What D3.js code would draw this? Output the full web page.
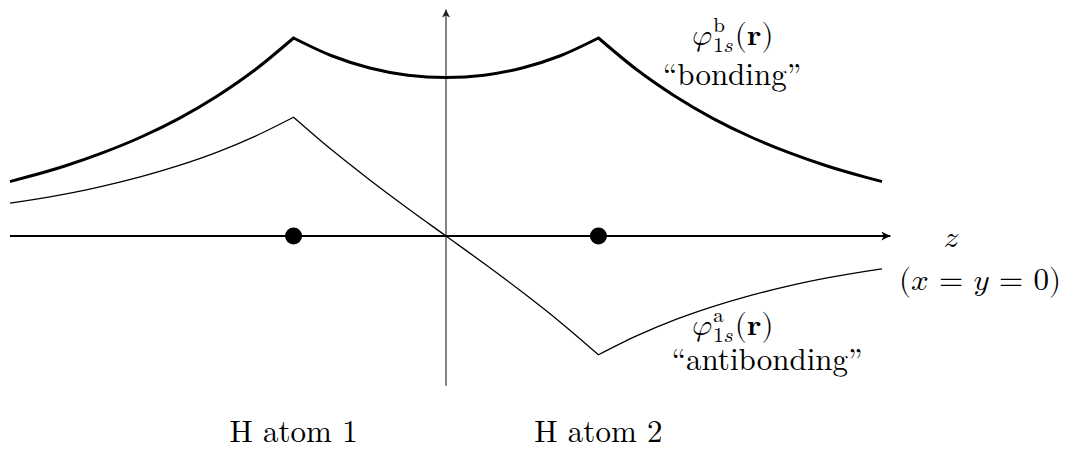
<!DOCTYPE html>
<html>
<head>
<meta charset="utf-8">
<script src="https://cdn.jsdelivr.net/npm/d3@7"></script>
<style>
  html, body { margin: 0; padding: 0; background: #fff; }
  svg { display: block; }
  text { font-family: "Latin Modern Roman", "Liberation Serif", serif; fill: #000; }
  .math { font-family: "Latin Modern Math", "Latin Modern Roman", serif; }
</style>
</head>
<body>
<svg id="chart" width="1066" height="451"></svg>
<script>
// Positions along the molecular axis z (in units of half the H–H separation)
const zSamples = [-2.86, -2.75, -2.5, -2.25, -2, -1.75, -1.5, -1.25, -1, -0.75, -0.5, -0.25, 0,
                  0.25, 0.5, 0.75, 1, 1.25, 1.5, 1.75, 2, 2.25, 2.5, 2.75, 2.86];
// Bonding combination of the two 1s orbitals
const bondingValues = [0.344, 0.372, 0.442, 0.526, 0.625, 0.743, 0.884, 1.051, 1.25, 1.138, 1.061, 1.015, 1.0,
                       1.015, 1.061, 1.138, 1.25, 1.051, 0.884, 0.743, 0.625, 0.526, 0.442, 0.372, 0.344];
// Antibonding combination of the two 1s orbitals
const antibondingValues = [0.207, 0.223, 0.265, 0.315, 0.375, 0.446, 0.530, 0.631, 0.75, 0.544, 0.354, 0.174, 0,
                           -0.174, -0.354, -0.544, -0.75, -0.631, -0.530, -0.446, -0.375, -0.315, -0.265, -0.223, -0.207];
// Nuclear positions (cusps of the orbitals)
const atomPositions = [-1, 1];
const atomLabels = ["H atom 1", "H atom 2"];
// Extent of the drawn axes
const zAxisExtent = [-2.86, 2.915];
const valueAxisExtent = [-0.945, 1.43];

const svg = d3.select("#chart");

const x = d3.scaleLinear().domain([-2.86, 2.86]).range([10, 882]);
const y = d3.scaleLinear().domain([0, 1.25]).range([236, 38]);

// Arrowhead markers
const defs = svg.append("defs");
defs.append("marker")
  .attr("id", "arrowH").attr("viewBox", "0 0 10 10").attr("refX", 10).attr("refY", 5)
  .attr("markerUnits", "userSpaceOnUse").attr("markerWidth", 14).attr("markerHeight", 9)
  .attr("orient", "auto")
  .append("path").attr("d", "M0,0 L10,5 L0,10 L2.5,5 Z").attr("fill", "#000");
defs.append("marker")
  .attr("id", "arrowV").attr("viewBox", "0 0 10 10").attr("refX", 10).attr("refY", 5)
  .attr("markerUnits", "userSpaceOnUse").attr("markerWidth", 13).attr("markerHeight", 8)
  .attr("orient", "auto")
  .append("path").attr("d", "M0,0 L10,5 L0,10 L2.5,5 Z").attr("fill", "#222");

// Vertical (value) axis through z = 0
svg.append("line")
  .attr("x1", x(0)).attr("x2", x(0))
  .attr("y1", y(valueAxisExtent[0])).attr("y2", y(valueAxisExtent[1]))
  .attr("stroke", "#333").attr("stroke-width", 1.2)
  .attr("marker-end", "url(#arrowV)");

// z axis
svg.append("line")
  .attr("x1", x(zAxisExtent[0])).attr("x2", x(zAxisExtent[1]))
  .attr("y1", y(0)).attr("y2", y(0))
  .attr("stroke", "#000").attr("stroke-width", 2.2)
  .attr("marker-end", "url(#arrowH)");

// Split a series into smooth pieces between the nuclear cusps
function pieces(values) {
  const pts = zSamples.map((z, i) => ({ z, v: values[i] }));
  const bounds = [zSamples[0], ...atomPositions, zSamples[zSamples.length - 1]];
  const out = [];
  for (let i = 0; i < bounds.length - 1; i++) {
    out.push(pts.filter(p => p.z >= bounds[i] && p.z <= bounds[i + 1]));
  }
  return out;
}

const line = d3.line().x(d => x(d.z)).y(d => y(d.v)).curve(d3.curveMonotoneX);

function drawSeries(values, width) {
  const segs = pieces(values);
  // consecutive pieces joined into one path so the cusps stay sharp
  const d = segs.map(s => line(s)).map((p, i) => i === 0 ? p : p.replace(/^M/, "L")).join("");
  svg.append("path")
    .attr("d", d)
    .attr("fill", "none").attr("stroke", "#000")
    .attr("stroke-width", width).attr("stroke-linejoin", "miter");
}

drawSeries(antibondingValues, 1.3);
drawSeries(bondingValues, 3);

// Nuclei
svg.selectAll("circle.atom").data(atomPositions).join("circle")
  .attr("class", "atom")
  .attr("cx", d => x(d)).attr("cy", y(0)).attr("r", 8.5).attr("fill", "#000");

// Atom labels
svg.selectAll("text.atomlabel").data(atomPositions).join("text")
  .attr("class", "atomlabel")
  .attr("x", d => x(d)).attr("y", 442)
  .attr("text-anchor", "middle")
  .attr("font-size", 31)
  .text((d, i) => atomLabels[i]);

// Orbital label: φ with superscript, subscript 1s and (r)
function orbitalLabel(x0, base, sup, supWidth) {
  const t = svg.append("text").attr("class", "math").attr("x", x0).attr("y", base).attr("font-size", 31);
  t.append("tspan").text("\u{1D711}");
  t.append("tspan").attr("font-size", 21).attr("dx", 1).attr("dy", -13).text(sup);
  t.append("tspan").attr("font-size", 21).attr("dx", -supWidth).attr("dy", 20).text("1");
  t.append("tspan").attr("font-size", 21).text("\u{1D460}");
  t.append("tspan").attr("dx", 1).attr("dy", -7).text("(");
  t.append("tspan").text("\u{1D42B}");
  t.append("tspan").text(")");
}

orbitalLabel(692, 45, "b", 11.7);
svg.append("text").attr("x", 732).attr("y", 85).attr("text-anchor", "middle")
  .attr("font-size", 31).text("\u201Cbonding\u201D");

orbitalLabel(692, 335, "a", 10.5);
svg.append("text").attr("x", 767).attr("y", 370).attr("text-anchor", "middle")
  .attr("font-size", 31).text("\u201Cantibonding\u201D");

// Axis label
svg.append("text").attr("class", "math").attr("x", 951).attr("y", 247).attr("text-anchor", "middle")
  .attr("font-size", 31).text("\u{1D467}");
svg.append("text").attr("class", "math").attr("x", 980).attr("y", 290).attr("text-anchor", "middle")
  .attr("font-size", 31).text("(\u{1D465} = \u{1D466} = 0)");
</script>
</body>
</html>
